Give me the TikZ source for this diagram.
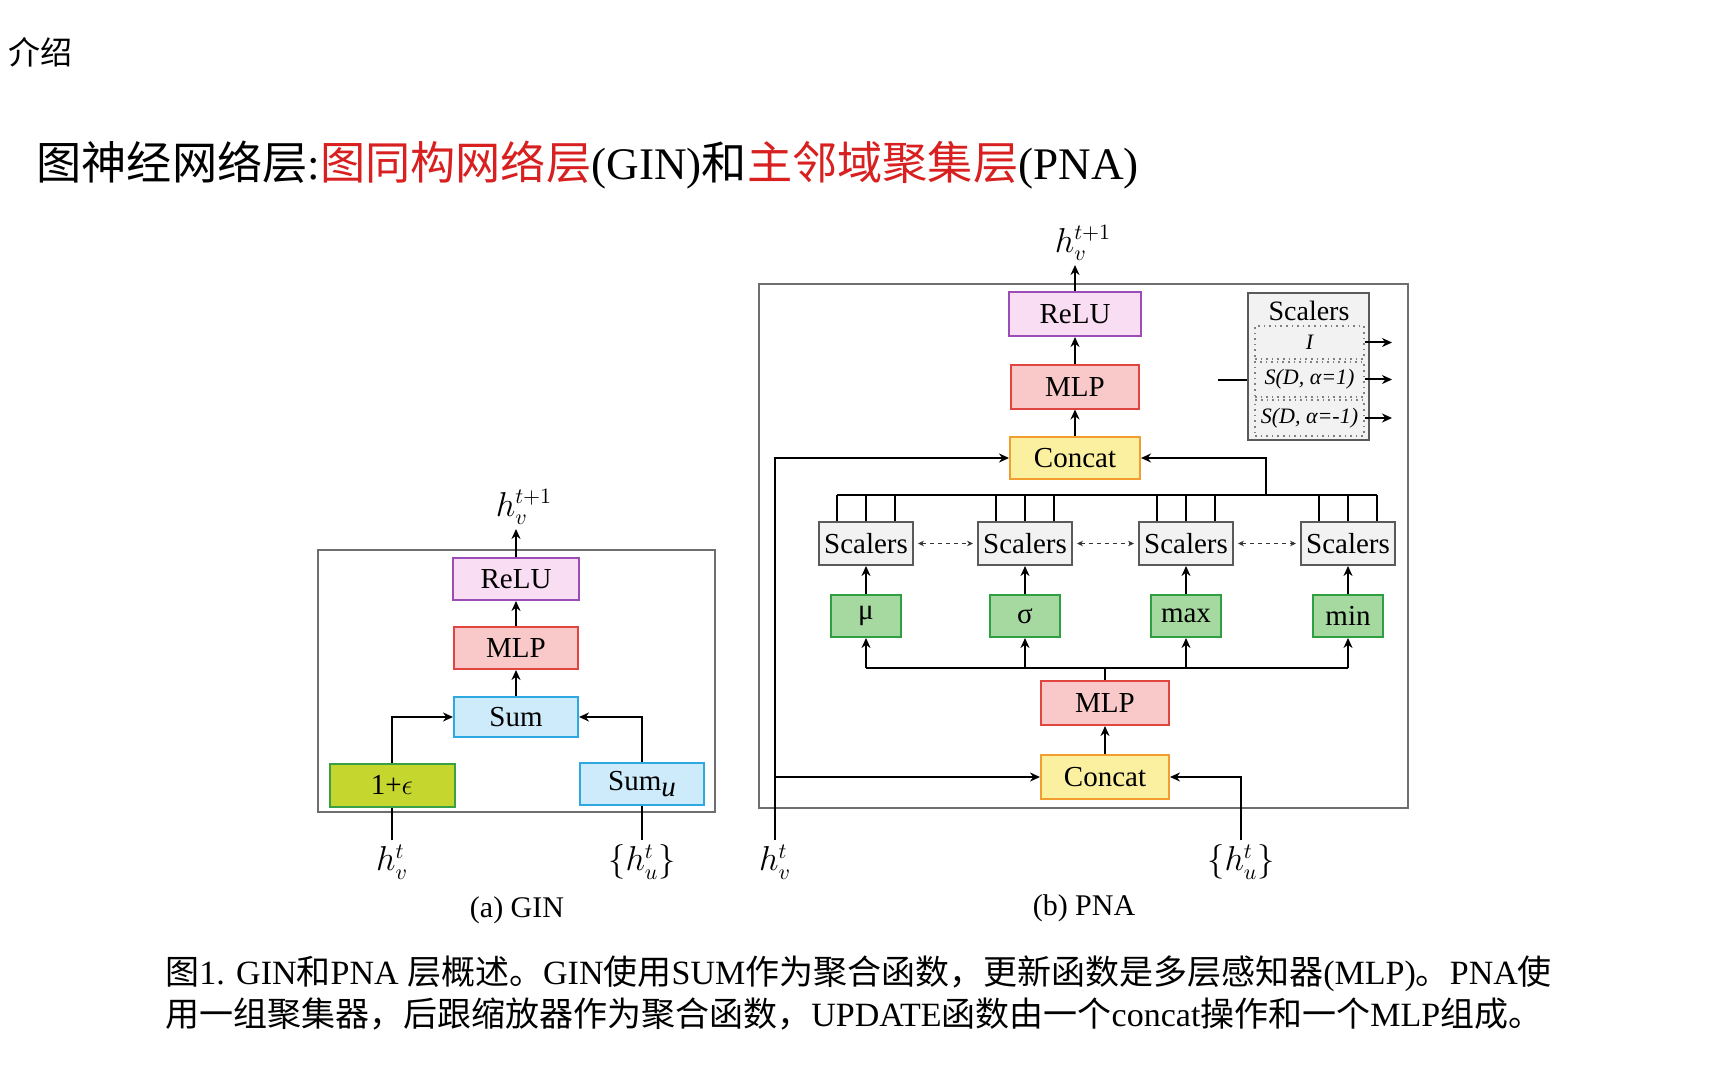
\documentclass[tikz,border=0pt]{standalone}
\usepackage{fontspec}
\setmainfont{Liberation Serif}
\newfontfamily\cjk{Noto Sans CJK SC}
\usetikzlibrary{arrows.meta}
\newcommand\zh[1]{{\cjk #1}}
\definecolor{titlered}{RGB}{216,32,32}
\definecolor{framecol}{RGB}{110,110,110}
\definecolor{relufill}{RGB}{249,221,242}
\definecolor{reludraw}{RGB}{156,77,181}
\definecolor{mlpfill}{RGB}{249,201,201}
\definecolor{mlpdraw}{RGB}{224,70,63}
\definecolor{sumfill}{RGB}{205,235,250}
\definecolor{sumdraw}{RGB}{46,168,224}
\definecolor{epsfill}{RGB}{197,215,46}
\definecolor{epsdraw}{RGB}{58,160,69}
\definecolor{catfill}{RGB}{250,240,160}
\definecolor{catdraw}{RGB}{242,157,47}
\definecolor{grnfill}{RGB}{166,217,160}
\definecolor{grndraw}{RGB}{46,160,67}
\definecolor{sclfill}{RGB}{242,242,242}
\definecolor{scldraw}{RGB}{90,90,90}
\tikzset{
  blk/.style={draw, line width=1pt, inner sep=0pt, font=\fontsize{14.5}{16}\selectfont},
  relubox/.style={blk, fill=relufill, draw=reludraw},
  mlpbox/.style={blk, fill=mlpfill, draw=mlpdraw},
  sumbox/.style={blk, fill=sumfill, draw=sumdraw},
  epsbox/.style={blk, fill=epsfill, draw=epsdraw},
  catbox/.style={blk, fill=catfill, draw=catdraw},
  grnbox/.style={blk, fill=grnfill, draw=grndraw, minimum width=35pt, minimum height=21pt},
  sclbox/.style={blk, fill=sclfill, draw=scldraw, minimum width=47pt, minimum height=21.5pt},
  frame/.style={draw=framecol, line width=1pt},
  conn/.style={line width=1pt, black},
  arr/.style={conn, -{Stealth[length=5pt,width=4.5pt]}},
  dotarr/.style={line width=0.6pt, black!80, dash pattern=on 2pt off 2pt, {Stealth[length=3pt,width=2.8pt]}-{Stealth[length=3pt,width=2.8pt]}, shorten <=2pt, shorten >=2pt},
  mlbl/.style={inner sep=2pt, font=\fontsize{16}{18}\selectfont},
  rowbox/.style={draw=gray, dotted, line width=0.8pt, inner sep=0pt, minimum width=54.5pt, font=\fontsize{11}{13}\selectfont\itshape},
}
\begin{document}
\begin{tikzpicture}[x=0.5pt,y=-0.5pt]
\useasboundingbox[fill=white] (0,0) rectangle (1728,1080);

% header
\node[anchor=west, inner sep=0pt, font=\cjk\fontsize{16}{18}\selectfont] (intro) at (8,52) {介绍};
\node[anchor=west, inner sep=0pt, font=\fontsize{22.6}{26}\selectfont] (title) at (36,165)
  {\zh{图神经网络层}:\textcolor{titlered}{\zh{图同构网络层}}(GIN)\zh{和}\textcolor{titlered}{\zh{主邻域聚集层}}(PNA)};

% ================= GIN =================
\draw[frame] (318,550) rectangle (715,812);
\node[relubox, minimum width=63pt, minimum height=21pt] (grelu) at (516,579) {ReLU};
\node[mlpbox, minimum width=62pt, minimum height=21pt] (gmlp) at (516,648) {MLP};
\node[sumbox, minimum width=62pt, minimum height=20pt] (gsum) at (516,717) {Sum};
\node[epsbox, minimum width=62.5pt, minimum height=21.5pt] (geps) at (392,785) {1+$\epsilon$};
\node[sumbox, minimum width=62pt, minimum height=21pt] (gsumu) at (642,784) {Sum\raisebox{-0.45ex}{\itshape u}};

\coordinate (gout) at (516,529);
\draw[arr] (gmlp) -- (grelu);
\draw[arr] (gsum) -- (gmlp);
\draw[arr] (grelu.north) -- (gout);
\node[mlbl, anchor=south, xshift=4pt] (gouth) at (gout) {$h_v^{t+1}$};
\draw[arr] (geps.north) |- (gsum.west);
\draw[arr] (gsumu.north) |- (gsum.east);

\node[mlbl] (ghv) at (392,862) {$h_v^{t}$};
\node[mlbl] (ghu) at (642,862) {$\{h_u^{t}\}$};
\draw[conn] (ghv.north) -- (geps.south);
\draw[conn] (ghu.north) -- (gsumu.south);
\node[inner sep=0pt, font=\fontsize{15}{17}\selectfont] (gcap) at (517,910) {(a) GIN};

% ================= PNA =================
\draw[frame] (759,284) rectangle (1408,808);
\node[relubox, minimum width=66pt, minimum height=22pt] (prelu) at (1075,314) {ReLU};
\node[mlpbox, minimum width=64pt, minimum height=21.5pt] (pmlp) at (1075,387) {MLP};
\node[catbox, minimum width=65pt, minimum height=21pt] (pcat) at (1075,458) {Concat};
\coordinate (pout) at (1075,265);
\draw[arr] (pmlp) -- (prelu);
\draw[arr] (pcat) -- (pmlp);
\draw[arr] (prelu.north) -- (pout);
\node[mlbl, anchor=south, xshift=4pt] (pouth) at (pout) {$h_v^{t+1}$};

% legend
\node[draw=scldraw, fill=sclfill, line width=1.2pt, minimum width=60.5pt, minimum height=73.5pt, inner sep=0pt] (leg) at (1308.5,366.5) {};
\node[inner sep=0pt, font=\fontsize{14}{16}\selectfont] (legt) at (1309,311) {Scalers};
\node[rowbox, minimum height=16.5pt] (row1) at (1309.5,342.5) {I};
\node[rowbox, minimum height=17.5pt] (row2) at (1309.5,379.5) {S(D, α=1)};
\node[rowbox, minimum height=18pt] (row3) at (1309.5,418) {S(D, α=-1)};
\coordinate (r1o) at (1392,342.5);
\coordinate (r2o) at (1392,379.5);
\coordinate (r3o) at (1392,418);
\draw[arr] (row1.east) -- (r1o);
\draw[arr] (row2.east) -- (r2o);
\draw[arr] (row3.east) -- (r3o);
\coordinate (legin) at (1218,380);
\draw[conn] (legin) -- (leg.west |- legin);

% scalers row
\node[sclbox] (ps1) at (866,543.5) {Scalers};
\node[sclbox] (ps2) at (1025,543.5) {Scalers};
\node[sclbox] (ps3) at (1186,543.5) {Scalers};
\node[sclbox] (ps4) at (1348,543.5) {Scalers};
\coordinate (busL) at (837,495);
\coordinate (busR) at (1377,495);
\coordinate (busc) at (1266,495);
\draw[conn] (busL) -- (busR);
\foreach \b in {ps1,ps2,ps3,ps4}{
  \foreach \d in {-29,0,29}{
    \draw[conn] ([xshift=\d*0.5pt]\b.north) -- ([xshift=\d*0.5pt]\b.north |- busL);
  }
}
\draw[arr] (busc) |- (pcat.east);
\draw[dotarr] (ps1.east) -- (ps2.west);
\draw[dotarr] (ps2.east) -- (ps3.west);
\draw[dotarr] (ps3.east) -- (ps4.west);

% aggregators
\node[grnbox] (pmu) at (866,616) {μ};
\node[grnbox] (psig) at (1025,616) {σ};
\node[grnbox] (pmax) at (1186,616) {max};
\node[grnbox] (pmin) at (1348,616) {min};
\draw[arr] (pmu) -- (ps1);
\draw[arr] (psig) -- (ps2);
\draw[arr] (pmax) -- (ps3);
\draw[arr] (pmin) -- (ps4);

\node[mlpbox, minimum width=64pt, minimum height=22pt] (pmlp2) at (1105,703) {MLP};
\node[catbox, minimum width=64pt, minimum height=22pt] (pcat2) at (1105,777) {Concat};
\coordinate (lbL) at (866,668);
\coordinate (lbR) at (1348,668);
\draw[conn] (lbL) -- (lbR);
\draw[conn] (pmlp2.north) -- (pmlp2.north |- lbL);
\foreach \g in {pmu,psig,pmax,pmin}{
  \draw[arr] (\g.south |- lbL) -- (\g.south);
}
\draw[arr] (pcat2) -- (pmlp2);

\node[mlbl] (phv) at (775,862) {$h_v^{t}$};
\node[mlbl] (phu) at (1241,862) {$\{h_u^{t}\}$};
\draw[arr] (phv.north) |- (pcat.west);
\draw[arr] (phv.north |- pcat2.west) -- (pcat2.west);
\draw[arr] (phu.north) |- (pcat2.east);
\node[inner sep=0pt, font=\fontsize{15}{17}\selectfont] (pcap) at (1084,908) {(b) PNA};

% caption
\node[anchor=west, inner sep=0pt, font=\fontsize{17}{19}\selectfont] (cap1) at (165,974)
  {\zh{图}1. GIN\zh{和}PNA \zh{层概述。}GIN\zh{使用}SUM\zh{作为聚合函数，更新函数是多层感知器}(MLP)\zh{。}PNA\zh{使}};
\node[anchor=west, inner sep=0pt, font=\fontsize{17}{19}\selectfont] (cap2) at (165,1014)
  {\zh{用一组聚集器，后跟缩放器作为聚合函数，}UPDATE\zh{函数由一个}concat\zh{操作和一个}MLP\zh{组成。}};
\end{tikzpicture}
\end{document}
